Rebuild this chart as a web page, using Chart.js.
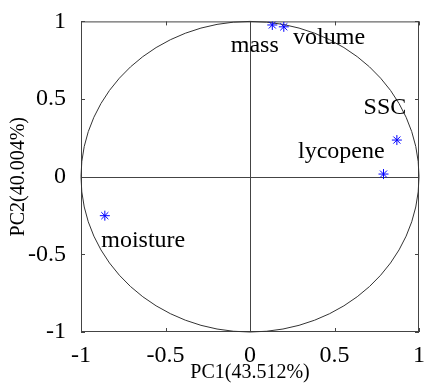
<!DOCTYPE html>
<html>
<head>
<meta charset="utf-8">
<script src="https://cdn.jsdelivr.net/npm/chart.js@4"></script>
<style>
  html, body { margin: 0; padding: 0; background: #fff; }
  #wrap { width: 426px; height: 383px; }
</style>
</head>
<body>
<div id="wrap"><canvas id="pca"></canvas></div>
<script>
// loadings
const variables = ["mass", "volume", "SSC", "lycopene", "moisture"];
const pc1 = [0.132, 0.200, 0.869, 0.790, -0.859];
const pc2 = [0.977, 0.965, 0.236, 0.017, -0.251];
// where the text labels sit (data units, left / baseline)
const labelX = [-0.114, 0.255, 0.672, 0.284, -0.880];
const labelY = [0.804, 0.855, 0.405, 0.122, -0.450];
const tickValues = [-1, -0.5, 0, 0.5, 1];

const serif = "'Liberation Serif', 'Times New Roman', serif";

const points = pc1.map((x, i) => ({ x: x, y: pc2[i] }));

// frame, inward ticks, zero lines, unit circle and text labels
const pcaDecor = {
  id: "pcaDecor",
  beforeDatasetsDraw(chart) {
    const { ctx, chartArea: a, scales: { x, y } } = chart;
    ctx.save();
    ctx.strokeStyle = "#444";
    ctx.lineWidth = 1;
    ctx.strokeRect(a.left + 0.5, a.top + 0.5, a.right - a.left - 1, a.bottom - a.top - 1);

    // ticks pointing inside, all four sides
    ctx.beginPath();
    tickValues.forEach(v => {
      const px = Math.round(x.getPixelForValue(v)) + 0.5;
      const py = Math.round(y.getPixelForValue(v)) + 0.5;
      ctx.moveTo(px, a.bottom); ctx.lineTo(px, a.bottom - 4);
      ctx.moveTo(px, a.top); ctx.lineTo(px, a.top + 4);
      ctx.moveTo(a.left, py); ctx.lineTo(a.left + 4, py);
      ctx.moveTo(a.right, py); ctx.lineTo(a.right - 4, py);
    });
    ctx.stroke();

    // zero lines
    const x0 = Math.round(x.getPixelForValue(0)) + 0.5;
    const y0 = Math.round(y.getPixelForValue(0)) + 0.5;
    ctx.beginPath();
    ctx.moveTo(x0, a.top); ctx.lineTo(x0, a.bottom);
    ctx.moveTo(a.left, y0); ctx.lineTo(a.right, y0);
    ctx.stroke();

    // correlation circle of radius 1
    const rx = x.getPixelForValue(1) - x.getPixelForValue(0);
    const ry = y.getPixelForValue(0) - y.getPixelForValue(1);
    ctx.beginPath();
    ctx.ellipse(x.getPixelForValue(0), y.getPixelForValue(0), rx, ry, 0, 0, Math.PI * 2);
    ctx.strokeStyle = "#333";
    ctx.stroke();

    // variable names
    ctx.fillStyle = "#000";
    ctx.font = "24px " + serif;
    ctx.textAlign = "left";
    ctx.textBaseline = "alphabetic";
    variables.forEach((name, i) => {
      ctx.fillText(name, x.getPixelForValue(labelX[i]), y.getPixelForValue(labelY[i]));
    });
    ctx.restore();
  }
};

new Chart(document.getElementById("pca"), {
  type: "scatter",
  data: {
    datasets: [{
      data: points,
      pointStyle: "star",
      pointRadius: 5,
      pointHoverRadius: 5,
      borderColor: "#0000ff",
      backgroundColor: "#0000ff",
      borderWidth: 1
    }]
  },
  options: {
    responsive: true,
    maintainAspectRatio: false,
    animation: false,
    layout: { padding: { top: 21, right: 4, left: 0, bottom: 0 } },
    plugins: { legend: { display: false }, tooltip: { enabled: false } },
    scales: {
      x: {
        min: -1, max: 1,
        afterFit: s => { s.height = 51; },
        afterBuildTicks: s => { s.ticks = tickValues.map(v => ({ value: v })); },
        grid: { display: false },
        border: { display: false },
        ticks: {
          color: "#000", padding: 1,
          font: { family: serif, size: 24 },
          callback: v => String(v)
        },
        title: {
          display: true, text: "PC1(43.512%)", color: "#000",
          font: { family: serif, size: 20, lineHeight: 1 }, padding: { top: 0, bottom: 0 }
        }
      },
      y: {
        min: -1, max: 1,
        afterFit: s => { s.width = 81; },
        afterBuildTicks: s => { s.ticks = tickValues.map(v => ({ value: v })); },
        grid: { display: false },
        border: { display: false },
        ticks: {
          color: "#000", padding: 7,
          font: { family: serif, size: 24 },
          callback: v => String(v)
        },
        title: {
          display: true, text: "PC2(40.004%)", color: "#000",
          font: { family: serif, size: 20 }, padding: { top: 7, bottom: 0 }
        }
      }
    }
  },
  plugins: [pcaDecor]
});
</script>
</body>
</html>
